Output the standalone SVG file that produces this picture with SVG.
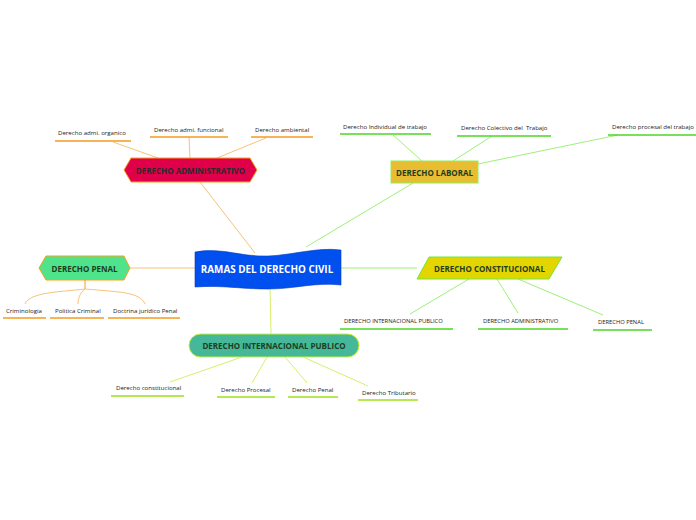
<svg xmlns="http://www.w3.org/2000/svg" width="696" height="520" viewBox="0 0 696 520">
<style>
.leaf{font-family:"Open Sans","Noto Sans","Liberation Sans",sans-serif;font-size:6.1px;fill:#222;white-space:pre;}
.caps{font-size:5.8px;}
.title{font-family:"Open Sans","Noto Sans","Liberation Sans",sans-serif;font-size:8px;font-weight:bold;text-anchor:middle;dominant-baseline:central;}
.big{font-size:9.9px;}
.or{stroke:#f7c27a;stroke-width:1;fill:none;}
.gr{stroke:#9ef07a;stroke-width:1;fill:none;}
.yg{stroke:#d6f06a;stroke-width:1;fill:none;}
.uo{stroke:#f59a1c;stroke-width:1.6;}
.ug{stroke:#4cd626;stroke-width:1.6;}
.uy{stroke:#9ee01a;stroke-width:1.6;}
</style>
<rect width="696" height="520" fill="#ffffff"/>
<g id="connectors">
  <line class="or" x1="200" y1="182" x2="255" y2="253"/>
  <line class="gr" x1="413" y1="183" x2="306" y2="247"/>
  <line class="or" x1="130" y1="268" x2="195" y2="268"/>
  <line class="gr" x1="341" y1="268" x2="417" y2="268"/>
  <line class="yg" x1="270" y1="288" x2="271" y2="334"/>
  <line class="or" x1="113" y1="142" x2="158" y2="158"/>
  <line class="or" x1="189" y1="137" x2="190" y2="158"/>
  <line class="or" x1="266" y1="138" x2="217" y2="158"/>
  <line class="gr" x1="393" y1="135" x2="422" y2="161"/>
  <line class="gr" x1="492" y1="136" x2="453" y2="161"/>
  <line class="gr" x1="618" y1="135" x2="478" y2="164"/>
  <path d="M85,279 L85,289" stroke="#f59a1c" stroke-width="1" fill="none"/>
  <path class="or" d="M85,289 C60,292 30,292 25,304"/>
  <path class="or" d="M85,289 C80,293 78,298 78,304"/>
  <path class="or" d="M85,289 C120,292 140,292 145,304"/>
  <line class="gr" x1="469" y1="279" x2="410" y2="314"/>
  <line class="gr" x1="497" y1="279" x2="518" y2="313"/>
  <line class="gr" x1="518" y1="279" x2="603" y2="315"/>
  <line class="yg" x1="242" y1="357" x2="170" y2="382"/>
  <line class="yg" x1="267" y1="357" x2="252" y2="383"/>
  <line class="yg" x1="285" y1="357" x2="307" y2="383"/>
  <line class="yg" x1="303" y1="357" x2="368" y2="386"/>
</g>

<g id="central">
  <path d="M195,252 C222,247 240,257 268,256 C294,255 316,247 341,250 L341,285 C316,282 294,289 268,289 C240,289 222,285 195,287 Z" fill="#0050f0" stroke="#0a3ac0" stroke-width="0.6"/>
  <text class="title big" x="267" y="269" fill="#ffffff">RAMAS DEL DERECHO CIVIL</text>
</g>

<g id="administrativo">
  <polygon points="124,170 131,158 250,158 257,170 250,182 131,182" fill="#e0004a" stroke="#f5a21a" stroke-width="1"/>
  <text class="title" x="190.500" y="170" fill="#2a2a2a">DERECHO ADMINISTRATIVO</text>
</g>
<g id="admi-organico">
  <text class="leaf" x="58" y="135">Derecho admi. organico</text>
  <line class="uo" x1="55" y1="141" x2="131" y2="141"/>
</g>
<g id="admi-funcional">
  <text class="leaf" x="154" y="132">Derecho admi. funcional</text>
  <line class="uo" x1="150" y1="137" x2="228" y2="137"/>
</g>
<g id="ambiental">
  <text class="leaf" x="255" y="132">Derecho ambiental</text>
  <line class="uo" x1="251" y1="137" x2="313" y2="137"/>
</g>

<g id="laboral">
  <rect x="391" y="161" width="87" height="22" fill="#e8bd32" stroke="#8ef05a" stroke-width="1"/>
  <text class="title" x="434.500" y="172" fill="#1e3d1e">DERECHO LABORAL</text>
</g>
<g id="individual">
  <text class="leaf" x="343" y="129">Derecho Individual de trabajo</text>
  <line class="ug" x1="340" y1="134" x2="431" y2="134"/>
</g>
<g id="colectivo">
  <text class="leaf" x="461" y="130" xml:space="preserve">Derecho Colectivo del  Trabajo</text>
  <line class="ug" x1="457" y1="136" x2="551" y2="136"/>
</g>
<g id="procesal-trabajo">
  <text class="leaf" x="612" y="129">Derecho procesal del trabajo</text>
  <line class="ug" x1="608" y1="135" x2="696" y2="135"/>
</g>

<g id="penal">
  <polygon points="39,268 46,256 124,256 130,268 124,280 46,280" fill="#4fe38c" stroke="#f5a21a" stroke-width="1"/>
  <text class="title" x="84.500" y="268" fill="#1e3d1e">DERECHO PENAL</text>
</g>
<g id="criminologia">
  <text class="leaf" x="6" y="313">Criminologia</text>
  <line class="uo" x1="3" y1="318" x2="46" y2="318"/>
</g>
<g id="politica">
  <text class="leaf" x="55" y="313">Politica Criminal</text>
  <line class="uo" x1="50" y1="318" x2="104" y2="318"/>
</g>
<g id="doctrina">
  <text class="leaf" x="113" y="313">Doctrina jurídico Penal</text>
  <line class="uo" x1="108" y1="318" x2="180" y2="318"/>
</g>

<g id="constitucional">
  <polygon points="429,257 562,257 549,279 417,279" fill="#e3d600" stroke="#6ee83a" stroke-width="1"/>
  <text class="title" x="489.500" y="268" fill="#1e3d1e">DERECHO CONSTITUCIONAL</text>
</g>
<g id="dip">
  <text class="leaf caps" x="344" y="323">DERECHO INTERNACIONAL PUBLICO</text>
  <line class="ug" x1="340" y1="329" x2="453" y2="329"/>
</g>
<g id="dadm">
  <text class="leaf caps" x="483" y="323">DERECHO ADMINISTRATIVO</text>
  <line class="ug" x1="478" y1="329" x2="568" y2="329"/>
</g>
<g id="dpenal">
  <text class="leaf caps" x="598" y="324">DERECHO PENAL</text>
  <line class="ug" x1="593" y1="330" x2="652" y2="330"/>
</g>

<g id="internacional">
  <rect x="189" y="334" width="170" height="23" rx="11.500" fill="#44b898" stroke="#c8f03a" stroke-width="1"/>
  <text class="title" x="274" y="345.500" fill="#1e3d1e">DERECHO INTERNACIONAL PUBLICO</text>
</g>
<g id="constitucional-leaf">
  <text class="leaf" x="116" y="390">Derecho constitucional</text>
  <line class="uy" x1="111" y1="396" x2="184" y2="396"/>
</g>
<g id="procesal">
  <text class="leaf" x="221" y="392">Derecho Procesal</text>
  <line class="uy" x1="217" y1="397" x2="275" y2="397"/>
</g>
<g id="penal-leaf">
  <text class="leaf" x="292" y="392">Derecho Penal</text>
  <line class="uy" x1="288" y1="397" x2="338" y2="397"/>
</g>
<g id="tributario">
  <text class="leaf" x="362" y="395">Derecho Tributario</text>
  <line class="uy" x1="358" y1="400" x2="418" y2="400"/>
</g>
</svg>
